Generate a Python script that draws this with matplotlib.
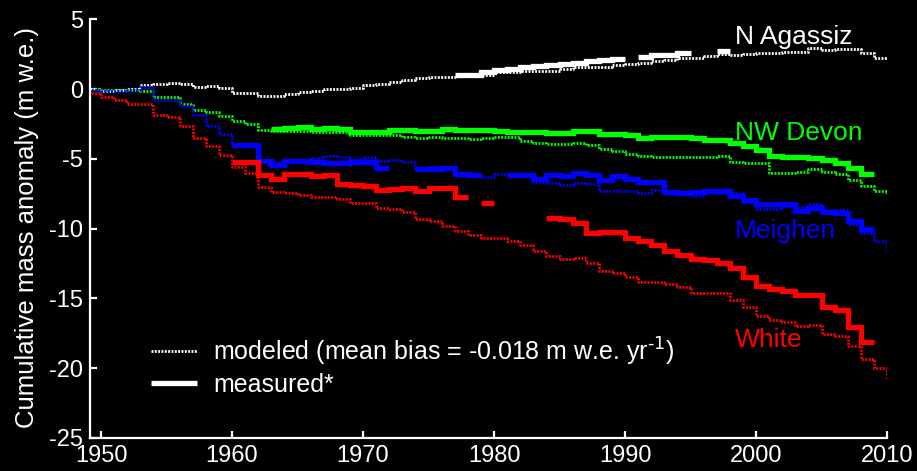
import numpy as np
import matplotlib
matplotlib.use("Agg")
import matplotlib.pyplot as plt
from matplotlib.lines import Line2D

plt.rcParams['font.family'] = ['Liberation Sans', 'DejaVu Sans']
plt.rcParams['axes.unicode_minus'] = False
plt.rcParams['mathtext.default'] = 'regular'

nan = np.nan

# modeled: annual cumulative values, 1949..2010
years_model = list(range(1949, 2011))
agassiz_model = [0.0, -0.15, -0.05, 0.0, 0.3, 0.36, 0.46, 0.35, 0.12, 0.22, 0.06, -0.27, -0.27,
                 -0.53, -0.53, -0.36, -0.24, -0.12, 0.0, 0.0, 0.07, 0.28, 0.38, 0.52, 0.66,
                 0.78, 0.85, 0.9, 0.95, 0.95, 1.0, 1.19, 1.21, 1.26, 1.31, 1.33, 1.43, 1.59,
                 1.59, 1.57, 1.69, 1.81, 1.86, 2.0, 2.11, 2.26, 2.21, 2.4, 2.5, 2.45, 2.5,
                 2.57, 2.57, 2.64, 2.69, 2.93, 2.81, 2.9, 2.88, 2.57, 2.21, 2.15]
devon_model = [0.0, -0.1, -0.08, -0.1, -0.17, -0.6, -0.6, -1.07, -1.48, -1.67, -1.95, -2.31,
               -2.5, -2.95, -3.02, -3.02, -2.98, -3.1, -3.05, -3.05, -3.29, -3.28, -3.28,
               -3.31, -3.43, -3.5, -3.45, -3.53, -3.54, -3.6, -3.48, -3.43, -3.43, -3.74,
               -3.86, -3.95, -3.97, -3.88, -4.0, -4.26, -4.43, -4.62, -4.81, -4.88, -4.86,
               -4.85, -4.9, -4.88, -4.81, -5.24, -5.27, -5.33, -6.0, -5.98, -5.95, -5.76,
               -5.95, -6.12, -6.55, -6.95, -7.31, -7.5]
meighen_model = [-0.05, -0.12, -0.12, -0.1, 0.12, -0.76, -0.76, -1.24, -1.88, -2.67, -3.19,
                 -4.0, -4.05, -5.15, -5.2, -5.05, -5.05, -4.93, -4.76, -4.88, -5.0, -4.88,
                 -5.12, -5.05, -5.24, -5.64, -5.57, -5.71, -6.0, -6.24, -6.29, -6.07, -6.07,
                 -6.2, -6.67, -6.76, -6.9, -6.71, -6.83, -7.31, -7.31, -7.33, -7.43, -7.26,
                 -7.31, -7.43, -7.69, -7.48, -7.45, -7.45, -8.1, -8.57, -8.57, -8.38, -8.45,
                 -8.26, -8.67, -8.64, -9.69, -10.33, -10.85, -11.7]
white_model = [-0.29, -0.6, -0.79, -1.07, -1.07, -1.83, -2.0, -2.67, -3.5, -4.05, -4.69, -5.6,
               -6.0, -7.0, -7.36, -7.45, -7.6, -7.74, -7.74, -7.9, -8.19, -8.19, -8.52, -8.57,
               -8.83, -9.33, -9.43, -9.81, -10.14, -10.43, -10.67, -10.64, -10.86, -11.19,
               -11.62, -11.95, -12.19, -12.12, -12.43, -13.02, -13.21, -13.43, -13.79,
               -13.81, -14.0, -14.21, -14.62, -14.64, -14.64, -15.12, -15.64, -16.24,
               -16.55, -16.67, -16.95, -16.9, -17.55, -17.67, -18.38, -19.33, -19.98, -20.76]

# measured: annual cumulative values, 1949..2009 (nan = no data)
years_meas = list(range(1949, 2010))
agassiz_meas = [nan] * 28 + [1.0, 1.04, 1.21, 1.35, 1.45, 1.55, 1.62, 1.74, 1.78, 1.88, 2.0,
                             2.07, 2.14, nan, 2.29, 2.43, 2.47, 2.57, nan, nan, 2.72] + [nan] * 12
devon_meas = [nan] * 14 + [-2.88, -2.79, -2.74, -2.84, -2.76, -2.84, -3.1, -3.07, -3.1, -2.95,
                           -2.95, -3.02, -3.02, -2.88, -2.93, -2.92, -2.9, -3.02, -3.1, -3.08,
                           -3.1, -3.12, -3.12, -2.98, -2.98, -3.22, -3.24, -3.3, -3.5, -3.4,
                           -3.43, -3.45, -3.54, -3.62, -3.64, -3.88, -4.1, -4.33, -4.83, -4.85,
                           -4.9, -4.93, -5.08, -5.3, -5.64, -6.12, nan]
meighen_meas = [nan] * 11 + [-4.02, -4.02, -5.12, -5.46, -5.17, -5.17, -5.24, -5.29, -5.29,
                             -5.22, -5.22, -5.69, nan, nan, -5.76, -5.74, -5.67, -6.07, -6.17,
                             nan, nan, -6.15, -6.15, -6.43, -6.19, -6.22, -6.0, -6.17, -6.48,
                             -6.24, -6.43, -6.67, -6.69, -7.36, -7.43, -7.4, -7.33, -7.33,
                             -7.67, -7.95, -8.26, -8.26, -8.22, -8.74, -8.5, -8.81, -8.9,
                             -9.45, -10.0, nan]
white_meas = [nan] * 11 + [-5.24, -5.24, -6.19, -6.43, -6.07, -6.07, -6.24, -6.19, -6.79,
                           -6.88, -6.95, -7.24, -7.19, -7.12, -7.29, -7.12, -7.07, -7.71, nan,
                           -8.19, nan, nan, nan, nan, -9.26, -9.28, -9.62, -10.29, -10.21,
                           -10.21, -10.67, -10.88, -11.14, -11.57, -11.86, -12.2, -12.22,
                           -12.43, -12.83, -13.5, -14.1, -14.33, -14.45, -14.74, -14.76,
                           -15.64, -15.81, -17.07, -18.1, nan]

glacier_names = ["N Agassiz", "NW Devon", "Meighen", "White"]
glacier_colors = ["#ffffff", "#00ff00", "#0000ff", "#ff0000"]
label_y = [3.75, -3.13, -10.15, -17.96]
label_x = 1998.4

legend_labels = [r"modeled (mean bias = -0.018 m w.e. yr$^{\text{-1}}$)", "measured*"]

model_series = [agassiz_model, devon_model, meighen_model, white_model]
meas_series = [agassiz_meas, devon_meas, meighen_meas, white_meas]

fig = plt.figure(figsize=(9.17, 4.71), dpi=100, facecolor='black')
ax = fig.add_axes([90 / 917, 1 - 438 / 471, 797 / 917, (438 - 19.3) / 471])
ax.set_facecolor('black')

model_ls = (0, (0.7, 0.5))
model_lw = 2.0
meas_lw = 3.8

for m, me, c in zip(model_series, meas_series, glacier_colors):
    ax.plot(years_meas, me, drawstyle='steps-post', color=c, lw=meas_lw,
            solid_capstyle='butt', solid_joinstyle='miter')
    ax.plot(years_model, m, drawstyle='steps-post', color=c, lw=model_lw, ls=model_ls)

for name, c, ly in zip(glacier_names, glacier_colors, label_y):
    ax.text(label_x, ly, name, color=c, fontsize=19, ha='left', va='center')

ax.set_xlim(1949.16, 2010)
ax.set_ylim(-25, 5)
ax.set_xticks(range(1950, 2011, 10))
ax.set_yticks(range(-25, 6, 5))

for s in ['top', 'right']:
    ax.spines[s].set_visible(False)
for s in ['left', 'bottom']:
    ax.spines[s].set_color('white')
    ax.spines[s].set_linewidth(1.6)
ax.tick_params(direction='in', colors='white', labelcolor='white', labelsize=17,
               length=5, width=1.6, pad=5)

fig.text(27 / 917, 1 - 228 / 471, "Cumulative mass anomaly (m w.e.)", color='white',
         fontsize=18.5, rotation=90, ha='center', va='center')

handles = [Line2D([], [], color='white', lw=model_lw, ls=model_ls),
           Line2D([], [], color='white', lw=meas_lw, solid_capstyle='butt')]
leg = ax.legend(handles, legend_labels, loc='upper left', bbox_to_anchor=(0.0765, 0.245),
                frameon=False, borderpad=0, borderaxespad=0, handlelength=1.85,
                handletextpad=0.65, labelspacing=0.22, fontsize=18)
for t in leg.get_texts():
    t.set_color('white')

fig.savefig("out.png", dpi=100, facecolor='black')
